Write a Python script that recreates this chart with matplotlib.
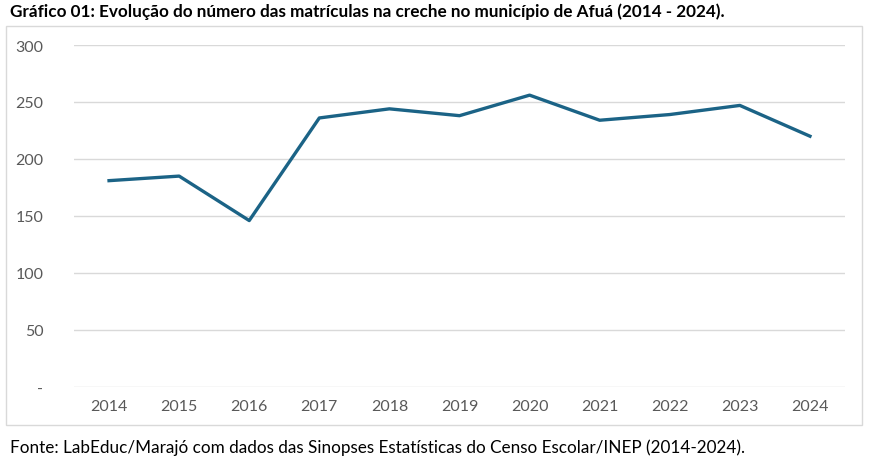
import matplotlib
matplotlib.use("Agg")
import matplotlib.pyplot as plt
from matplotlib.patches import Rectangle
from matplotlib import font_manager

anos = [2014, 2015, 2016, 2017, 2018, 2019, 2020, 2021, 2022, 2023, 2024]
matriculas = [181, 185, 146, 236, 244, 238, 256, 234, 239, 247, 220]
y_ticks = [0, 50, 100, 150, 200, 250, 300]
y_labels = ["-", "50", "100", "150", "200", "250", "300"]

titulo = "Gráfico 01: Evolução do número das matrículas na creche no município de Afuá (2014 - 2024)."
fonte = "Fonte: LabEduc/Marajó com dados das Sinopses Estatísticas do Censo Escolar/INEP (2014-2024)."

nomes = {f.name for f in font_manager.fontManager.ttflist}
familia = "Liberation Sans Narrow" if "Liberation Sans Narrow" in nomes else "Lato"
plt.rcParams["font.family"] = [familia, "DejaVu Sans"]

fig = plt.figure(figsize=(8.8, 4.64), dpi=100)
W, H = 880, 464

# moldura do grafico
fig.patches.append(Rectangle((6 / W, 1 - 426 / H), 856 / W, 399 / H,
                             transform=fig.transFigure, fill=False,
                             edgecolor="#d9d9d9", linewidth=1))

ax = fig.add_axes([74 / W, 1 - 388 / H, 771 / W, 342 / H])
x = list(range(len(anos)))
ax.plot(x, matriculas, color="#1b6386", linewidth=2.4, solid_joinstyle="round")

ax.set_xlim(-0.5, len(anos) - 0.5)
ax.set_ylim(0, 300)
ax.set_xticks(x)
ax.set_xticklabels([str(a) for a in anos])
ax.set_yticks(y_ticks)
ax.set_yticklabels(y_labels)
ax.tick_params(axis="both", length=0, colors="#595959", labelsize=11.5)
ax.tick_params(axis="x", pad=9)
ax.tick_params(axis="y", pad=22)
ax.grid(axis="y", color="#d9d9d9", linewidth=1)
ax.set_axisbelow(True)
for s in ax.spines.values():
    s.set_visible(False)

fig.text(10 / W, 1 - 12 / H, titulo, fontsize=12.3, fontweight="bold",
         va="center", ha="left", color="#000000")
fig.text(10 / W, 1 - 448 / H, fonte, fontsize=12.3, va="center", ha="left",
         color="#000000")

fig.savefig("out.png", dpi=100)
